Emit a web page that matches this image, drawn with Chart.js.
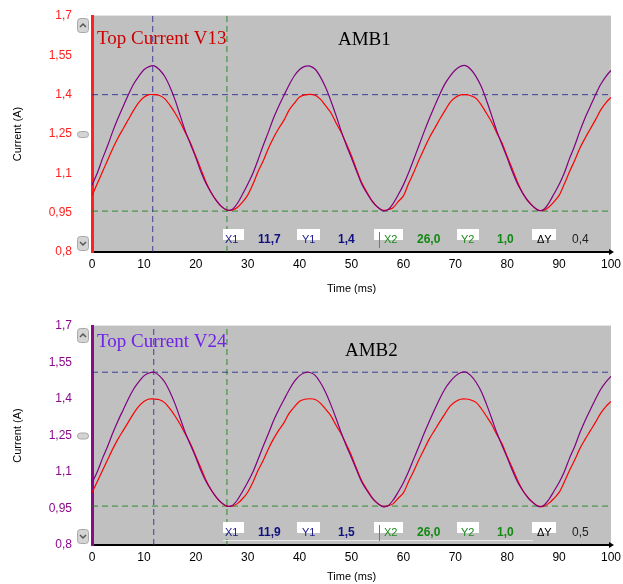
<!DOCTYPE html>
<html lang="en">
<head>
  <meta charset="UTF-8" />
  <title>AMB Top Current</title>
  <script src="https://cdn.jsdelivr.net/npm/chart.js"></script>
  <style>
    body {
      margin: 0;
      background: #fff;
      width: 623px;
      height: 584px;
      position: relative;
      overflow: hidden;
    }
    canvas {
      position: absolute;
      left: 0;
    }
    #canvas1 { top: 0; }
    #canvas2 { top: 296px; }
  </style>
</head>
<body>

<canvas id="canvas1" width="623" height="296"></canvas>
<canvas id="canvas2" width="623" height="288"></canvas>

<script>
  // time axis (ms), one sample per ms
  const timeMs = [
    0,1,2,3,4,5,6,7,8,9,10,11,12,13,14,15,16,17,18,19,20,21,22,23,24,25,26,27,28,29,
    30,31,32,33,34,35,36,37,38,39,40,41,42,43,44,45,46,47,48,49,50,51,52,53,54,55,56,57,58,59,
    60,61,62,63,64,65,66,67,68,69,70,71,72,73,74,75,76,77,78,79,80,81,82,83,84,85,86,87,88,89,
    90,91,92,93,94,95,96,97,98,99,100
  ];

  // purple trace (V24)
  const currentV24 = [
    1.055,1.100,1.155,1.205,1.260,1.310,1.355,1.400,1.440,1.470,1.495,1.507,1.510,1.495,1.470,1.430,1.380,1.320,1.260,1.210,1.160,1.105,1.060,1.025,0.995,0.973,0.960,0.962,0.985,1.020,
    1.058,1.100,1.152,1.207,1.258,1.312,1.357,1.398,1.438,1.472,1.496,1.508,1.509,1.497,1.468,1.428,1.378,1.322,1.262,1.208,1.158,1.107,1.058,1.023,0.993,0.972,0.958,0.961,0.984,1.018,
    1.056,1.102,1.154,1.206,1.259,1.309,1.356,1.401,1.441,1.471,1.494,1.508,1.511,1.496,1.469,1.431,1.379,1.321,1.261,1.209,1.159,1.106,1.059,1.024,0.994,0.974,0.959,0.962,0.986,1.021,
    1.057,1.101,1.156,1.205,1.261,1.311,1.355,1.399,1.439,1.469,1.493
  ];

  // red trace (V13)
  const currentV13 = [
    1.015,1.060,1.105,1.150,1.195,1.235,1.270,1.305,1.340,1.370,1.390,1.400,1.400,1.397,1.385,1.360,1.330,1.295,1.255,1.215,1.165,1.115,1.065,1.025,0.995,0.972,0.960,0.960,0.970,0.990,
    1.017,1.058,1.107,1.148,1.196,1.237,1.272,1.303,1.342,1.368,1.391,1.399,1.401,1.398,1.383,1.358,1.332,1.293,1.257,1.213,1.167,1.113,1.063,1.027,0.994,0.971,0.959,0.961,0.969,0.992,
    1.014,1.061,1.104,1.151,1.194,1.236,1.271,1.306,1.339,1.371,1.389,1.399,1.400,1.396,1.386,1.361,1.329,1.296,1.254,1.216,1.164,1.116,1.066,1.024,0.996,0.973,0.960,0.959,0.971,0.991,
    1.016,1.059,1.106,1.149,1.196,1.234,1.269,1.304,1.341,1.369,1.390
  ];

  const yTicks = [0.8, 0.95, 1.1, 1.25, 1.4, 1.55, 1.7];
  const xMin = 0, xMax = 100;

  // cursors: [X1, Y1, X2, Y2]
  const cursorsAmb1 = [11.7, 1.4, 26.0, 0.956];
  const cursorsAmb2 = [11.9, 1.51, 26.0, 0.96];

  // readout texts: X1, Y1, X2, Y2, dY
  const readoutAmb1 = ['11,7', '1,4', '26,0', '1,0', '0,4'];
  const readoutAmb2 = ['11,9', '1,5', '26,0', '1,0', '0,5'];

  const RED = '#ff0000';
  const PURPLE = '#800080';
  const CUR_BLUE = 'rgba(40,40,140,0.85)';
  const CUR_GREEN = 'rgba(20,130,20,0.85)';

  function fmt(v) {
    return String(Math.round(v * 100) / 100).replace('.', ',');
  }

  function toPoints(ys) {
    return timeMs.map((t, i) => ({ x: t, y: ys[i] }));
  }

  function cursorSets(c) {
    const yMin = yTicks[0], yMax = yTicks[yTicks.length - 1];
    const base = { borderWidth: 1, pointRadius: 0, borderDash: [6, 4], order: 10, fill: false };
    return [
      { ...base, borderColor: CUR_BLUE, data: [{ x: c[0], y: yMin }, { x: c[0], y: yMax }] },
      { ...base, borderColor: CUR_BLUE, data: [{ x: xMin, y: c[1] }, { x: xMax, y: c[1] }] },
      { ...base, borderColor: CUR_GREEN, data: [{ x: c[2], y: yMin }, { x: c[2], y: yMax }] },
      { ...base, borderColor: CUR_GREEN, data: [{ x: xMin, y: c[3] }, { x: xMax, y: c[3] }] }
    ];
  }

  function drawButton(ctx, x, y, w, h, dir) {
    ctx.save();
    ctx.fillStyle = '#d4d4d4';
    ctx.strokeStyle = '#a8a8a8';
    ctx.lineWidth = 1;
    ctx.beginPath();
    ctx.roundRect(x + 0.5, y + 0.5, w, h, 3);
    ctx.fill();
    ctx.stroke();
    if (dir) {
      ctx.strokeStyle = '#555';
      ctx.lineWidth = 1.5;
      ctx.beginPath();
      const cx = x + w / 2 + 0.5, cy = y + h / 2 + 0.5;
      if (dir === 'up') {
        ctx.moveTo(cx - 3, cy + 1.5); ctx.lineTo(cx, cy - 1.5); ctx.lineTo(cx + 3, cy + 1.5);
      } else {
        ctx.moveTo(cx - 3, cy - 1.5); ctx.lineTo(cx, cy + 1.5); ctx.lineTo(cx + 3, cy - 1.5);
      }
      ctx.stroke();
    }
    ctx.restore();
  }

  const panelPlugin = {
    id: 'panel',
    beforeDraw(chart, args, opts) {
      const { ctx, chartArea: a } = chart;
      ctx.save();
      ctx.fillStyle = '#c0c0c0';
      ctx.fillRect(a.left, a.top, a.right - a.left, a.bottom - a.top);
      ctx.fillStyle = '#e4e4e4';
      ctx.fillRect(a.left, a.top - 1, a.right - a.left, 1);
      ctx.restore();
    },
    afterDraw(chart, args, opts) {
      const { ctx, chartArea: a } = chart;
      const sy = chart.scales.y;

      // scroll buttons
      drawButton(ctx, 77, sy.getPixelForValue(1.7) + 2, 11, 14, 'up');
      drawButton(ctx, 77, sy.getPixelForValue(1.25) - 3, 11, 6, null);
      drawButton(ctx, 77, sy.getPixelForValue(0.8) - 16, 11, 14, 'down');

      // arrow at the end of the time axis
      ctx.save();
      ctx.fillStyle = '#000';
      ctx.beginPath();
      ctx.moveTo(a.right + 3, a.bottom);
      ctx.lineTo(a.right - 2, a.bottom - 3);
      ctx.lineTo(a.right - 2, a.bottom + 3);
      ctx.closePath();
      ctx.fill();

      // trace name and panel name
      ctx.textBaseline = 'alphabetic';
      ctx.textAlign = 'left';
      ctx.font = '19px "Liberation Serif", "Times New Roman", serif';
      ctx.fillStyle = opts.nameColor;
      ctx.fillText(opts.name, a.left + 5, a.top + opts.nameDy);
      ctx.fillStyle = '#000';
      ctx.fillText(opts.panel, opts.panelX, a.top + opts.panelDy);

      // cursor readout
      const boxTop = a.bottom - 23;
      const ty = a.bottom - 12.5;
      if (opts.underline) {
        ctx.fillStyle = '#e8e8e8';
        ctx.fillRect(223, a.bottom - 5, 310, 1);
      }
      const boxes = [[223, 21, 'X1', '#1c1c8c'], [297, 23, 'Y1', '#1c1c8c'],
                     [374, 29, 'X2', '#1d8a1d'], [457, 22, 'Y2', '#1d8a1d'], [532, 24, '\u0394Y', '#000']];
      const textX = [225, 302, 384, 461, 537];
      const valX = [258, 338, 417, 497, 572];
      const valColor = ['#101080', '#101080', '#118811', '#118811', '#222'];
      ctx.textBaseline = 'middle';
      boxes.forEach((b, i) => {
        ctx.fillStyle = '#fff';
        ctx.fillRect(b[0], boxTop, b[1], 11);
        ctx.fillStyle = b[3];
        ctx.font = '11px "Liberation Sans", Arial, sans-serif';
        ctx.fillText(b[2], textX[i], ty);
        ctx.fillStyle = valColor[i];
        ctx.font = (i < 4 ? 'bold 12px ' : '12px ') + '"Liberation Sans", Arial, sans-serif';
        ctx.fillText(opts.readout[i], valX[i], ty);
      });
      ctx.fillStyle = '#777';
      ctx.fillRect(379, a.bottom - 20, 1, 16);
      ctx.restore();
    }
  };

  function buildChart(id, cfg) {
    const tickFont = { family: '"Liberation Sans", Arial, sans-serif', size: 12 };
    const titleFont = { family: '"Liberation Sans", Arial, sans-serif', size: 11 };
    return new Chart(document.getElementById(id), {
      type: 'line',
      data: {
        datasets: [
          { data: toPoints(currentV24), borderColor: PURPLE, borderWidth: 1.2, pointRadius: 0, tension: 0.3, order: 0 },
          { data: toPoints(currentV13), borderColor: RED, borderWidth: 1.2, pointRadius: 0, tension: 0.3, order: 1 },
          ...cursorSets(cfg.cursors)
        ]
      },
      options: {
        responsive: false,
        animation: false,
        devicePixelRatio: 1,
        layout: { padding: { left: 0, right: 12, top: cfg.padTop, bottom: 0 } },
        plugins: {
          legend: { display: false },
          tooltip: { enabled: false },
          panel: {
            name: cfg.name, nameColor: cfg.nameColor, nameDy: cfg.nameDy,
            panel: cfg.panel, panelX: cfg.panelX, panelDy: cfg.panelDy,
            readout: cfg.readout, underline: cfg.underline
          }
        },
        scales: {
          x: {
            type: 'linear',
            min: xMin,
            max: xMax,
            ticks: { stepSize: 10, color: '#000', font: tickFont, padding: 5, maxRotation: 0, autoSkip: false },
            grid: { display: false, drawTicks: false },
            border: { display: true, color: '#000', width: 2 },
            title: { display: true, text: 'Time (ms)', color: '#000', font: titleFont, padding: { top: 0, bottom: cfg.xTitlePad } },
            afterFit(s) {
              s.height = cfg.xHeight;
              s.paddingLeft = 0;
              s.paddingRight = 0;
            }
          },
          y: {
            min: yTicks[0],
            max: yTicks[yTicks.length - 1],
            afterBuildTicks(s) { s.ticks = yTicks.map(v => ({ value: v })); },
            ticks: { color: cfg.axisColor, font: tickFont, padding: 20, autoSkip: false, callback: v => fmt(v) },
            grid: { display: false, drawTicks: false },
            border: { display: true, color: cfg.axisColor, width: 3 },
            title: { display: true, text: 'Current (A)', color: '#000', font: titleFont, padding: { top: 11, bottom: 0 } },
            afterFit(s) {
              s.width = 92;
              s.paddingTop = 0;
              s.paddingBottom = 0;
            }
          }
        }
      },
      plugins: [panelPlugin]
    });
  }

  buildChart('canvas1', {
    cursors: cursorsAmb1, readout: readoutAmb1,
    name: 'Top Current V13', nameColor: '#cc0000', nameDy: 28,
    panel: 'AMB1', panelX: 338, panelDy: 29,
    axisColor: '#ff2020', padTop: 16, xHeight: 44, xTitlePad: 0, underline: false
  });

  buildChart('canvas2', {
    cursors: cursorsAmb2, readout: readoutAmb2,
    name: 'Top Current V24', nameColor: '#7022e8', nameDy: 21,
    panel: 'AMB2', panelX: 345, panelDy: 30,
    axisColor: '#8b0a8b', padTop: 30, xHeight: 39, xTitlePad: 0, underline: true
  });
</script>
</body>
</html>
